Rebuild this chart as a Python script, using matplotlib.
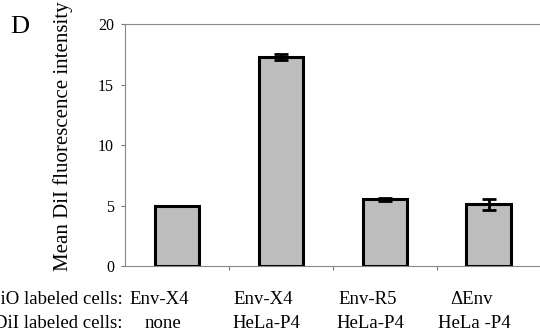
import matplotlib
matplotlib.use("Agg")
import matplotlib.pyplot as plt
import matplotlib.transforms as mtransforms

# values
dio_cells = ["Env-X4", "Env-X4", "Env-R5", "\u0394Env"]
dil_cells = ["none", "HeLa-P4", "HeLa-P4", "HeLa -P4"]
intensity = [5.0, 17.3, 5.5, 5.1]
errors = [0.0, 0.27, 0.12, 0.45]
yticks = [0, 5, 10, 15, 20]

plt.rcParams['font.family'] = ['Liberation Serif', 'DejaVu Serif']

fig = plt.figure(figsize=(5.4, 3.35), dpi=100)
ax = fig.add_axes([0.2315, 0.206, 0.77, 0.722])

x = list(range(len(intensity)))
ax.bar(x, intensity, width=0.43, color='#bdbdbd', edgecolor='black', linewidth=2.2, zorder=2)
ax.errorbar(x, intensity, yerr=errors, fmt='none', ecolor='black', elinewidth=2,
            capsize=5, capthick=2, zorder=3)

ax.set_xlim(-0.5, 3.5)
ax.set_ylim(0, 20)
ax.set_yticks(yticks)
ax.set_yticklabels([str(t) for t in yticks], fontsize=11.5)
ax.set_xticks([0.5, 1.5, 2.5])
ax.set_xticklabels([])
ax.tick_params(axis='both', direction='out', length=3, width=0.8, color='#777777')
ax.tick_params(axis='y', pad=5)

for side in ['left', 'bottom', 'top']:
    ax.spines[side].set_color('#888888')
    ax.spines[side].set_linewidth(0.8)
ax.spines['right'].set_visible(False)

ax.set_ylabel("Mean DiI fluorescence intensity", fontsize=15)
ax.yaxis.set_label_coords(-0.125, 0.535)

# two rows of category text under the axis
trans = mtransforms.blended_transform_factory(ax.transData, fig.transFigure)
for i in x:
    ax.text(i - 0.17, 0.107, dio_cells[i], transform=trans, ha='center', va='center', fontsize=13.5)
    ax.text(i - 0.14, 0.035, dil_cells[i], transform=trans, ha='center', va='center', fontsize=13.5)
fig.text(0.227, 0.107, "DiO labeled cells:", ha='right', va='center', fontsize=13.5)
fig.text(0.227, 0.035, "DiI labeled cells:", ha='right', va='center', fontsize=13.5)

fig.text(0.018, 0.918, "D", ha='left', va='center', fontsize=19)

fig.savefig("out.png", dpi=100)
